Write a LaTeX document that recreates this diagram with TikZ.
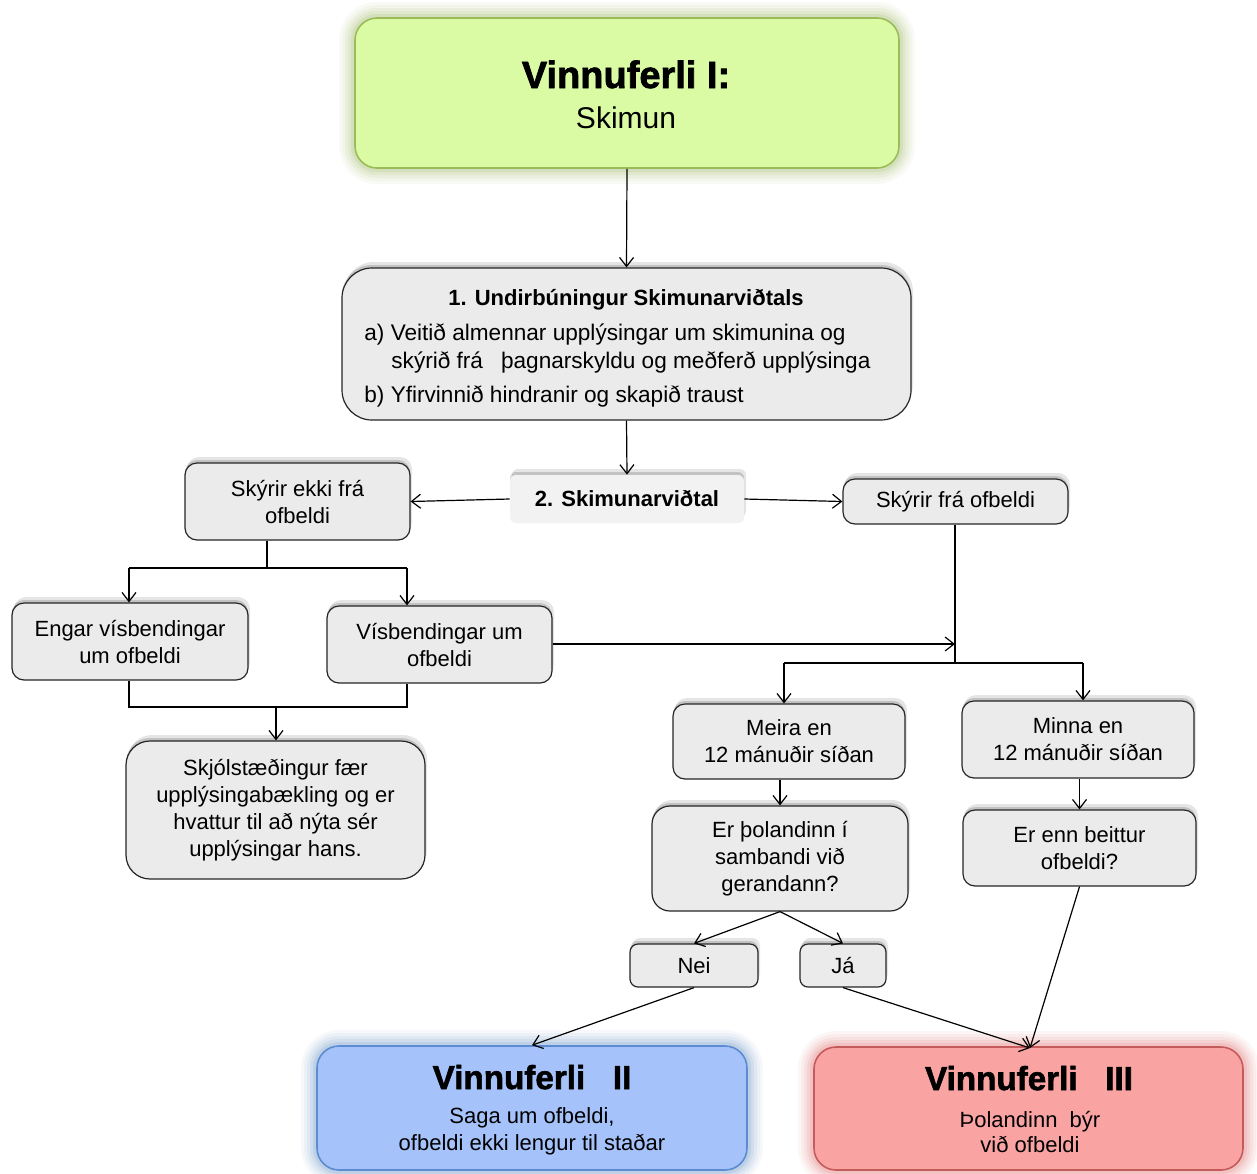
\documentclass[tikz,border=0pt]{standalone}
\usepackage{fontspec}
\setmainfont{Liberation Sans}
\newfontfamily\titlefnt{Liberation Sans}[BoldFeatures={FakeBold=1.8}]
\usetikzlibrary{arrows.meta,shadows}
\definecolor{gfill}{HTML}{DAFBA4}
\definecolor{gborder}{HTML}{9BBB59}
\definecolor{gglow}{HTML}{8DB04A}
\definecolor{bfill}{HTML}{A5C3FA}
\definecolor{bborder}{HTML}{5B8BD0}
\definecolor{bglow}{HTML}{4F81BD}
\definecolor{rfill}{HTML}{F9A3A3}
\definecolor{rborder}{HTML}{C55A5A}
\definecolor{rglow}{HTML}{E05A5A}
\definecolor{boxgray}{HTML}{EBEBEB}
\definecolor{lightgray}{HTML}{F2F2F2}
\begin{document}
\begin{tikzpicture}[x=0.5pt,y=-0.5pt,
  body/.style={font=\fontsize{11}{13.5}\selectfont},
  bodyb/.style={font=\fontsize{11.3}{13.5}\selectfont},
  lbl/.style={inner sep=0pt},
  sh/.style={general shadow={fill=black,opacity=0.10,shadow yshift=3pt,shadow xshift=1pt},
             general shadow={fill=black,opacity=0.15,shadow yshift=1.5pt}},
  gbox/.style={draw=black!85, fill=boxgray, line width=0.6pt, rounded corners=6pt,
               align=center, inner sep=0pt, body, sh},
  glow/.style={preaction={draw=#1, line width=16pt, opacity=0.05},
               preaction={draw=#1, line width=13pt, opacity=0.06},
               preaction={draw=#1, line width=10pt, opacity=0.08},
               preaction={draw=#1, line width=7pt, opacity=0.10},
               preaction={draw=#1, line width=4pt, opacity=0.14}},
  arr/.style={-{Straight Barb[length=4.5pt,width=7pt]}, line width=0.6pt},
  ln/.style={line width=0.6pt}]
\fill[white] (0,0) rectangle (1257,1173);
\useasboundingbox (0,0) rectangle (1257,1173);

% top box
\node[glow=gglow, draw=gborder, fill=gfill, line width=0.8pt, rounded corners=11pt,
      minimum width=272pt, minimum height=75pt, inner sep=0pt] (top) at (627,93) {};
\node[lbl, anchor=base, font=\fontsize{19}{22}\titlefnt\bfseries] (topt) at (626,88) {Vinnuferli I:};
\node[lbl, anchor=base, font=\fontsize{15}{18}\selectfont] (tops) at (626,128) {Skimun};

% box 1
\node[gbox, rounded corners=15pt, minimum width=284.5pt, minimum height=76pt] (b1) at (626.5,344) {};
\node[lbl, anchor=base, font=\fontsize{11}{13}\selectfont\bfseries] (b1h) at (626,305) {1. Undirbúningur Skimunarviðtals};
\node[lbl, anchor=base west, bodyb] (b1a) at (364,340) {a) Veitið almennar upplýsingar um skimunina og};
\node[lbl, anchor=base west, bodyb] (b1b) at (391,368) {skýrið frá\hspace{9pt}þagnarskyldu og meðferð upplýsinga};
\node[lbl, anchor=base west, bodyb] (b1c) at (364,402) {b) Yfirvinnið hindranir og skapið traust};

% interview
\node[fill=lightgray, rounded corners=3pt, inner sep=0pt, body, sh,
      minimum width=117pt, minimum height=24pt, font=\fontsize{11}{13}\selectfont\bfseries] (s2) at (627,499) {2. Skimunarviðtal};

\node[gbox, minimum width=112.5pt, minimum height=38.5pt] (ekki) at (297.5,501.5) {Skýrir ekki frá\\ofbeldi};
\node[gbox, minimum width=112.5pt, minimum height=22.5pt] (fra) at (955.5,501.5) {Skýrir frá ofbeldi};
\node[gbox, minimum width=118pt, minimum height=38.5pt] (engar) at (130,641.5) {Engar vísbendingar\\um ofbeldi};
\node[gbox, minimum width=112.5pt, minimum height=38.5pt] (vis) at (439.5,644.5) {Vísbendingar um\\ofbeldi};
\node[gbox, rounded corners=12pt, minimum width=149.5pt, minimum height=69pt] (skjol) at (275.5,810)
  {Skjólstæðingur fær\\upplýsingabækling og er\\hvattur til að nýta sér\\upplýsingar hans.};
\node[gbox, minimum width=116pt, minimum height=37.5pt] (meira) at (789,741.5) {Meira en\\12 mánuðir síðan};
\node[gbox, minimum width=116pt, minimum height=38.5pt] (minna) at (1078,739.5) {Minna en\\12 mánuðir síðan};
\node[gbox, rounded corners=9pt, minimum width=128pt, minimum height=52.5pt] (er) at (780,858.5)
  {Er þolandinn í\\sambandi við\\gerandann?};
\node[gbox, minimum width=116.5pt, minimum height=38pt] (erenn) at (1079.5,848) {Er enn beittur\\ofbeldi?};
\node[gbox, rounded corners=4pt, minimum width=64pt, minimum height=21.5pt] (nei) at (694,965.5) {Nei};
\node[gbox, rounded corners=4pt, minimum width=43pt, minimum height=21.5pt] (ja) at (843,965.5) {Já};

% bottom boxes
\node[glow=bglow, draw=bborder, fill=bfill, line width=0.8pt, rounded corners=11pt,
      minimum width=215pt, minimum height=62pt, inner sep=0pt] (v2) at (532,1108) {};
\node[lbl, anchor=base, font=\fontsize{16.6}{19}\titlefnt\bfseries] (v2t) at (532,1089) {Vinnuferli\ \ \ II};
\node[lbl, anchor=base, body] (v2a) at (532,1123) {Saga um ofbeldi,};
\node[lbl, anchor=base, body] (v2b) at (532,1150) {ofbeldi ekki lengur til staðar};

\node[glow=rglow, draw=rborder, fill=rfill, line width=0.8pt, rounded corners=11pt,
      minimum width=214.5pt, minimum height=61.5pt, inner sep=0pt] (v3) at (1028.5,1108.5) {};
\node[lbl, anchor=base, font=\fontsize{16.6}{19}\titlefnt\bfseries] (v3t) at (1029,1090) {Vinnuferli\ \ \ III};
\node[lbl, anchor=base, body] (v3a) at (1030,1127) {Þolandinn\ \ býr};
\node[lbl, anchor=base, body] (v3b) at (1030,1152) {við ofbeldi};

% connectors
\draw[arr] (top.south) -- (b1.north);
\draw[arr] (b1.south) -- (s2.north);
\draw[arr] (s2.west) -- (ekki.east);
\draw[arr] (s2.east) -- (fra.west);

\coordinate (j1) at (267,568);
\coordinate (j1l) at (129,568);
\coordinate (j1r) at (407,568);
\draw[ln] (ekki.south -| j1) -- (j1);
\draw[ln] (j1l) -- (j1r);
\draw[arr] (j1l) -- (engar.north -| j1l);
\draw[arr] (j1r) -- (vis.north -| j1r);

\coordinate (j2) at (276,707);
\coordinate (j2l) at (129,707);
\coordinate (j2r) at (407,707);
\draw[ln] (engar.south -| j2l) -- (j2l) -- (j2r) -- (vis.south -| j2r);
\draw[arr] (j2) -- (skjol.north -| j2);

\coordinate (j3) at (955,644);
\draw[arr] (vis.east |- j3) -- (j3);

\coordinate (j4) at (955,663);
\coordinate (j4l) at (784,663);
\coordinate (j4r) at (1083,663);
\draw[ln] (fra.south -| j4) -- (j4);
\draw[ln] (j4l) -- (j4r);
\draw[arr] (j4l) -- (meira.north -| j4l);
\draw[arr] (j4r) -- (minna.north -| j4r);

\draw[arr] (er.north |- meira.south) -- (er.north);
\draw[arr] (minna.south -| erenn.north) -- (erenn.north);
\draw[arr] (er.south) -- (nei.north);
\draw[arr] (er.south) -- (ja.north);
\draw[arr] (nei.south) -- (v2.north);
\coordinate (v3in) at (1030,1048);
\draw[arr] (ja.south) -- (v3in);
\draw[arr] (erenn.south) -- (v3in);
\end{tikzpicture}
\end{document}
